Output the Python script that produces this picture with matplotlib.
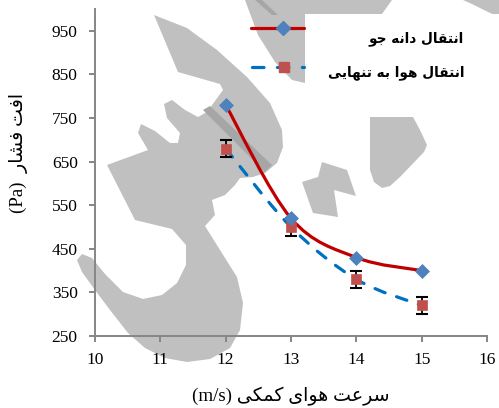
import matplotlib
matplotlib.use("Agg")
import matplotlib.pyplot as plt
import numpy as np
from matplotlib.path import Path
from matplotlib.patches import PathPatch, Polygon, Rectangle
from matplotlib.lines import Line2D

# ---- data ----
speed = [12, 13, 14, 15]
grain_drop = [780, 520, 430, 400]
air_drop = [680, 500, 380, 320]
air_err = [20, 20, 20, 20]
x_ticks = [10, 11, 12, 13, 14, 15, 16]
y_ticks = [250, 350, 450, 550, 650, 750, 850, 950]
legend_labels = ["انتقال دانه جو", "انتقال هوا به تنهایی"]
x_label_fa = "سرعت هوای کمکی"
y_label_fa = "افت فشار"

W, H = 499, 408
RED = "#C00000"
BLUE = "#0070C0"
DIAMOND = "#4F81BD"
SQUARE = "#C0504D"
AXIS = "#868686"
WM = "#C0C0C0"
WM_DARK = "#A6A6A6"

# ---- minimal Arabic/Persian shaping (presentation forms, visual order) ----
FORMS = {
    "ا": ("\uFE8D", "\uFE8E", None, None),
    "د": ("\uFEA9", "\uFEAA", None, None),
    "ر": ("\uFEAD", "\uFEAE", None, None),
    "و": ("\uFEED", "\uFEEE", None, None),
    "ب": ("\uFE8F", "\uFE90", "\uFE91", "\uFE92"),
    "ت": ("\uFE95", "\uFE96", "\uFE97", "\uFE98"),
    "ج": ("\uFE9D", "\uFE9E", "\uFE9F", "\uFEA0"),
    "س": ("\uFEB1", "\uFEB2", "\uFEB3", "\uFEB4"),
    "ش": ("\uFEB5", "\uFEB6", "\uFEB7", "\uFEB8"),
    "ع": ("\uFEC9", "\uFECA", "\uFECB", "\uFECC"),
    "ف": ("\uFED1", "\uFED2", "\uFED3", "\uFED4"),
    "ق": ("\uFED5", "\uFED6", "\uFED7", "\uFED8"),
    "ل": ("\uFEDD", "\uFEDE", "\uFEDF", "\uFEE0"),
    "م": ("\uFEE1", "\uFEE2", "\uFEE3", "\uFEE4"),
    "ن": ("\uFEE5", "\uFEE6", "\uFEE7", "\uFEE8"),
    "ه": ("\uFEE9", "\uFEEA", "\uFEEB", "\uFEEC"),
    "ی": ("\uFBFC", "\uFBFD", "\uFBFE", "\uFBFF"),
    "ک": ("\uFB8E", "\uFB8F", "\uFB90", "\uFB91"),
}


def dual(c):
    return c in FORMS and FORMS[c][2] is not None


def shape_fa(text):
    out = []
    for i, c in enumerate(text):
        if c not in FORMS:
            out.append(c)
            continue
        prev = text[i - 1] if i > 0 else ""
        nxt = text[i + 1] if i + 1 < len(text) else ""
        join_prev = dual(prev)
        join_next = dual(c) and nxt in FORMS
        iso, fin, ini, med = FORMS[c]
        if join_prev and join_next:
            out.append(med)
        elif join_prev:
            out.append(fin)
        elif join_next:
            out.append(ini)
        else:
            out.append(iso)
    return "".join(reversed(out))


def smooth_path(xs, ys):
    pts = np.column_stack([xs, ys]).astype(float)
    n = len(pts)
    verts = [pts[0]]
    codes = [Path.MOVETO]
    for i in range(n - 1):
        p0 = pts[max(i - 1, 0)]
        p1 = pts[i]
        p2 = pts[i + 1]
        p3 = pts[min(i + 2, n - 1)]
        verts += [p1 + (p2 - p0) / 6.0, p2 - (p3 - p1) / 6.0, p2]
        codes += [Path.CURVE4] * 3
    return Path(verts, codes)


fig = plt.figure(figsize=(W / 100, H / 100), dpi=100)
fig.patch.set_facecolor("white")


def fpt(x, y):
    return (x / W, 1 - y / H)


# ---- background watermark ----
wm_shapes = [
    # large swoosh with hand and curled tail
    [(154, 15), (187, 28), (217, 50), (247, 77), (270, 103), (282, 130), (283, 147),
     (277, 163), (265, 173), (253, 177), (240, 178), (235, 185), (225, 195), (212, 200),
     (215, 215), (205, 226), (220, 250), (237, 277), (243, 303), (240, 330), (230, 348),
     (210, 359), (187, 362), (165, 358), (145, 348), (128, 333), (110, 310), (95, 290),
     (82, 272), (77, 260), (82, 254), (92, 258), (105, 274), (123, 292), (143, 299),
     (162, 295), (177, 283), (186, 265), (186, 245), (172, 229), (135, 220), (107, 165),
     (148, 150), (138, 133), (141, 124), (155, 131), (170, 143), (178, 143), (180, 133),
     (167, 118), (164, 104), (172, 100), (185, 110), (198, 117), (207, 112), (223, 90),
     (220, 84), (178, 72)],
    # band behind the legend
    [(245, 0), (392, 0), (382, 14), (305, 14), (305, 83), (292, 80), (275, 62), (258, 35)],
    # top-right corner piece
    [(463, 0), (499, 0), (499, 17), (486, 11), (472, 4)],
    # right shape below the legend
    [(370, 117), (413, 117), (420, 130), (427, 145), (424, 152), (400, 177), (390, 186),
     (382, 188), (374, 182), (370, 170)],
    # zig-zag diamonds
    [(302, 182), (318, 177), (322, 162), (347, 170), (356, 196), (334, 190), (338, 217),
     (313, 213)],
]
for shp in wm_shapes:
    fig.add_artist(Polygon([fpt(*p) for p in shp], closed=True, transform=fig.transFigure,
                           facecolor=WM, edgecolor="none", zorder=-3))
# darker strip along the lower edge of the swoosh
fig.add_artist(Polygon([fpt(*p) for p in [(203, 110), (210, 106), (272, 165), (265, 172)]],
                       closed=True, transform=fig.transFigure, facecolor=WM_DARK,
                       edgecolor="none", zorder=-2.5))
fig.add_artist(Polygon([fpt(*p) for p in [(255, 0), (262, 0), (278, 15), (272, 15)]],
                       closed=True, transform=fig.transFigure, facecolor=WM_DARK,
                       edgecolor="none", zorder=-2.5))

# white panel behind the legend text
fig.add_artist(Rectangle(fpt(305, 83), (499 - 305) / W, (83 - 14) / H,
                         transform=fig.transFigure, facecolor="white", edgecolor="none",
                         zorder=-2))

# ---- axes ----
ax = fig.add_axes([95 / W, 1 - 336 / H, (487 - 95) / W, (336 - 9) / H])
ax.set_facecolor("none")
ax.set_xlim(10, 16)
ax.set_ylim(250, 1000)
ax.set_xticks(x_ticks)
ax.set_yticks(y_ticks)
for s in ("top", "right"):
    ax.spines[s].set_visible(False)
for s in ("left", "bottom"):
    ax.spines[s].set_color(AXIS)
    ax.spines[s].set_linewidth(1.4)
ax.tick_params(axis="both", direction="out", length=4.5, width=1.4, color=AXIS,
               labelsize=12.5, labelcolor="black")
ax.tick_params(axis="y", pad=8)
ax.tick_params(axis="x", pad=7)
for lab in ax.get_xticklabels() + ax.get_yticklabels():
    lab.set_family("Liberation Serif")

# series: smoothed lines
ax.add_patch(PathPatch(smooth_path(speed, grain_drop), fill=False, edgecolor=RED,
                       linewidth=2.3, capstyle="round", zorder=3))
dashed = PathPatch(smooth_path(speed, air_drop), fill=False, edgecolor=BLUE,
                   linewidth=2.3, linestyle=(0, (3.4, 3.8)), zorder=2)
dashed.set_capstyle("round")
ax.add_patch(dashed)

ax.errorbar(speed, air_drop, yerr=air_err, fmt="none", ecolor="black", elinewidth=1.3,
            capsize=4, capthick=1.5, zorder=4)
ax.plot(speed, air_drop, linestyle="none", marker="s", markersize=6.8,
        markerfacecolor=SQUARE, markeredgecolor=SQUARE, markeredgewidth=0.5, zorder=5)
ax.plot(speed, grain_drop, linestyle="none", marker="D", markersize=7.2,
        markerfacecolor=DIAMOND, markeredgecolor=DIAMOND, markeredgewidth=0.5, zorder=6)

# ---- legend ----
(x0, y0), (x1, _) = fpt(251, 28), fpt(304, 28)
fig.add_artist(Line2D([x0, x1], [y0, y0], transform=fig.transFigure, color=RED,
                      linewidth=2.3, solid_capstyle="round", zorder=2))
fig.add_artist(Line2D([fpt(283, 28)[0]], [y0], transform=fig.transFigure, marker="D",
                      markersize=7.2, color=DIAMOND, linestyle="none", zorder=3))
(x0, y1), (x1, _) = fpt(252, 67), fpt(304, 67)
fig.add_artist(Line2D([x0, x1], [y1, y1], transform=fig.transFigure, color=BLUE,
                      linewidth=2.3, linestyle=(0, (3.6, 4.2)), dash_capstyle="round",
                      zorder=2))
fig.add_artist(Line2D([fpt(284, 67)[0]], [y1], transform=fig.transFigure, marker="s",
                      markersize=6.8, color=SQUARE, linestyle="none", zorder=3))

for lbl, ypix in zip(legend_labels, (39, 73)):
    fig.text(*fpt(464, ypix), shape_fa(lbl), ha="right", va="center", fontsize=9.8,
             fontweight="bold", family=["DejaVu Sans"], color="black", zorder=4)

# ---- axis titles ----
fa_family = ["Liberation Serif", "DejaVu Sans"]
fig.text(*fpt(291, 396), "(m/s) " + shape_fa(x_label_fa), ha="center", va="center",
         fontsize=13.7, family=fa_family)
fig.text(*fpt(19, 153), "(Pa)  " + shape_fa(y_label_fa), ha="center", va="center",
         rotation=90, fontsize=13.7, family=fa_family)

fig.savefig("out.png", dpi=100)
